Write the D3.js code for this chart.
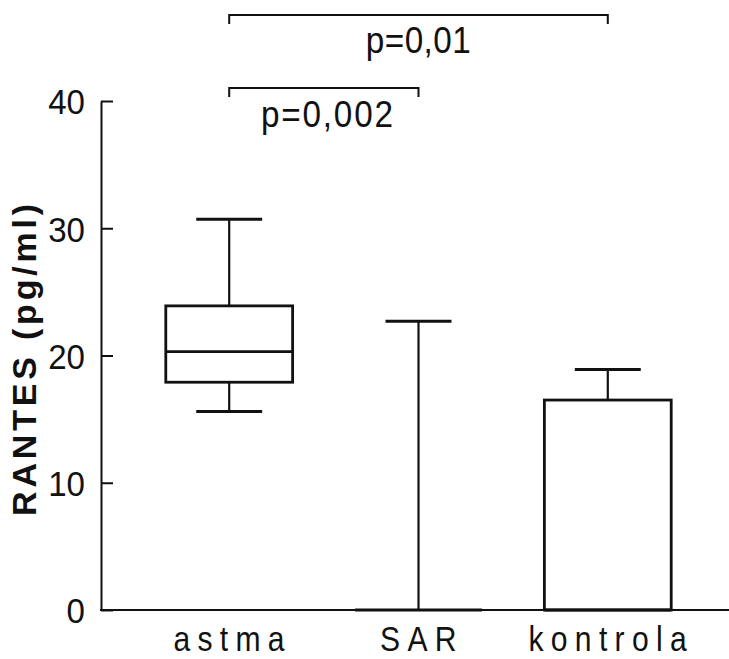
<!DOCTYPE html>
<html lang="en">
<head>
    <meta charset="UTF-8">
    <title>RANTES</title>
    <script src="https://d3js.org/d3.v7.min.js"></script>
</head>
<style>
    html,body {
        margin: 0;
        padding: 0;
        background: #fff;
    }
    text {
        font-family: "Liberation Sans", Arial, Helvetica, sans-serif;
        fill: #111;
    }
</style>
<body>
    <div id="chart"></div>
</body>
<script>
    // dane
    const categories = ['astma', 'SAR', 'kontrola'];
    const whiskerLow = [15.6, 0, 0];
    const q1 = [17.9, 0, 0];
    const median = [20.3, 0, 0];
    const q3 = [23.9, 0, 16.5];
    const whiskerHigh = [30.7, 22.7, 18.9];
    const yTicks = [0, 10, 20, 30, 40];
    const compFrom = ['astma', 'astma'];
    const compTo = ['kontrola', 'SAR'];
    const compLabel = ['p=0,01', 'p=0,002'];

    const width = 729, height = 659;
    const svg = d3.select('#chart').append('svg')
        .attr('width', width)
        .attr('height', height);

    const y = d3.scaleLinear().domain([0, 40]).range([610, 101]);
    const x = d3.scaleBand()
        .domain(categories)
        .range([109, 728])
        .paddingInner(0.33)
        .paddingOuter(0.3);
    const cx = d => x(d) + x.bandwidth() / 2;

    const boxes = categories.map((c, i) => ({
        cat: c, lo: whiskerLow[i], q1: q1[i], med: median[i], q3: q3[i], hi: whiskerHigh[i]
    }));

    // os Y, kreski do srodka
    const yAxis = svg.append('g')
        .attr('transform', 'translate(101,0)')
        .call(d3.axisLeft(y).tickValues(yTicks).tickSizeInner(-12).tickSizeOuter(0).tickPadding(0));
    yAxis.selectAll('path, line').attr('stroke', '#111').attr('stroke-width', 2);
    yAxis.selectAll('text')
        .attr('x', null)
        .attr('dy', '0.36em')
        .attr('transform', 'translate(-16,0) scale(0.92,1)')
        .style('font-size', '36px');

    // os X
    svg.append('line')
        .attr('x1', 100).attr('x2', width)
        .attr('y1', y(0)).attr('y2', y(0))
        .attr('stroke', '#111').attr('stroke-width', 2);
    const xAxis = svg.append('g')
        .attr('transform', `translate(0,${y(0)})`)
        .call(d3.axisBottom(x).tickSize(0).tickPadding(0));
    xAxis.select('.domain').remove();
    xAxis.selectAll('text')
        .attr('y', null)
        .attr('dy', null)
        .attr('transform', 'translate(0,41) scale(0.86,1)')
        .style('font-size', '35px')
        .style('letter-spacing', '8.5px')
        .attr('dx', 4);

    svg.append('text')
        .attr('transform', 'translate(36,358) rotate(-90)')
        .attr('text-anchor', 'middle')
        .style('font-size', '34px')
        .style('font-weight', 'bold')
        .style('letter-spacing', '3.8px')
        .text('RANTES (pg/ml)');

    const g = svg.append('g').selectAll('g').data(boxes).enter().append('g');
    const capW = x.bandwidth() * 0.52;

    // wasy
    g.append('line')
        .attr('x1', d => cx(d.cat)).attr('x2', d => cx(d.cat))
        .attr('y1', d => y(d.hi)).attr('y2', d => y(d.q3))
        .attr('stroke', '#111').attr('stroke-width', 2.2);
    g.append('line')
        .attr('x1', d => cx(d.cat)).attr('x2', d => cx(d.cat))
        .attr('y1', d => y(d.q1)).attr('y2', d => y(d.lo))
        .attr('stroke', '#111').attr('stroke-width', 2.2);
    g.filter(d => d.hi > d.q3).append('line')
        .attr('x1', d => cx(d.cat) - capW / 2).attr('x2', d => cx(d.cat) + capW / 2)
        .attr('y1', d => y(d.hi)).attr('y2', d => y(d.hi))
        .attr('stroke', '#111').attr('stroke-width', 3);
    g.filter(d => d.lo < d.q1).append('line')
        .attr('x1', d => cx(d.cat) - capW / 2).attr('x2', d => cx(d.cat) + capW / 2)
        .attr('y1', d => y(d.lo)).attr('y2', d => y(d.lo))
        .attr('stroke', '#111').attr('stroke-width', 3);

    // pudelka
    g.append('rect')
        .attr('x', d => x(d.cat))
        .attr('width', x.bandwidth())
        .attr('y', d => y(d.q3))
        .attr('height', d => y(d.q1) - y(d.q3))
        .attr('fill', 'none')
        .attr('stroke', '#111')
        .attr('stroke-width', 2.8);
    g.append('line')
        .attr('x1', d => x(d.cat)).attr('x2', d => x(d.cat) + x.bandwidth())
        .attr('y1', d => y(d.med)).attr('y2', d => y(d.med))
        .attr('stroke', '#111').attr('stroke-width', 2.8);

    // klamry z p
    const bracketY = [15, 88];
    compLabel.forEach((lab, i) => {
        const x1 = cx(compFrom[i]), x2 = cx(compTo[i]), by = bracketY[i];
        svg.append('path')
            .attr('d', `M${x1},${by + 9}V${by}H${x2}V${by + 9}`)
            .attr('fill', 'none')
            .attr('stroke', '#111')
            .attr('stroke-width', 2);
        svg.append('text')
            .attr('transform', `translate(${(x1 + x2) / 2 + (i === 1 ? 4 : 0)},${by + (i === 0 ? 38 : 39)}) scale(0.9,1)`)
            .attr('text-anchor', 'middle')
            .style('font-size', '37px')
            .style('letter-spacing', i === 1 ? '2px' : '0.5px')
            .text(lab);
    });
</script>
</html>
